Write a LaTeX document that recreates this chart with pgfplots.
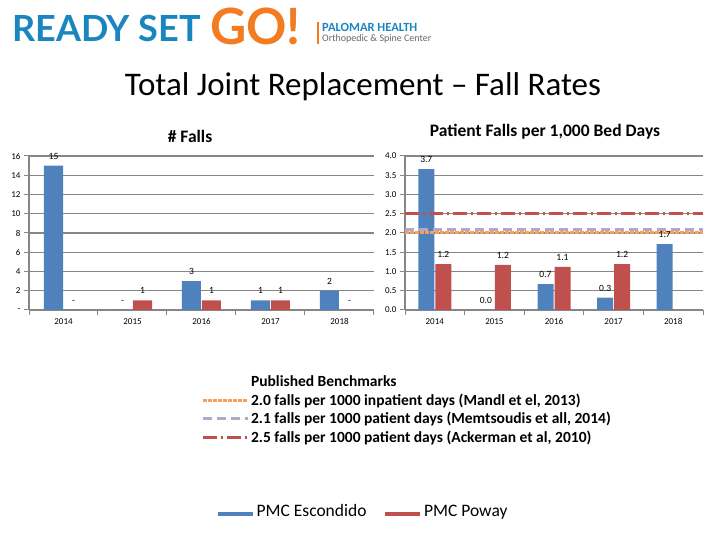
\documentclass[border=0pt]{standalone}
\usepackage{fontspec}
\setmainfont{Carlito}
\newfontfamily\logofont{Lato}
\usepackage{pgfplots}
\pgfplotsset{compat=1.18}
\definecolor{escblue}{RGB}{79,129,189}
\definecolor{powred}{RGB}{192,80,77}
\definecolor{gridgray}{RGB}{134,134,134}
\definecolor{bmorange}{RGB}{247,160,90}
\definecolor{bmlav}{RGB}{178,168,204}
\definecolor{bmred}{RGB}{192,80,77}
\definecolor{logoblue}{RGB}{26,134,192}
\definecolor{logoorange}{RGB}{244,124,32}
\pgfplotsset{
  chartstyle/.style={
    scale only axis, clip=false,
    xmin=0, xmax=5, ymin=0,
    axis x line*=bottom, axis y line*=left,
    axis line style={-, gridgray, line width=1.3pt},
    ymajorgrids, grid style={gridgray, line width=1.3pt},
    xtick={0.5,1.5,2.5,3.5,4.5}, xticklabels={2014,2015,2016,2017,2018},
    minor xtick={0,1,2,3,4,5},
    major x tick style={draw=none},
    tick align=outside, major tick length=5pt, minor tick length=5pt,
    tick style={gridgray, line width=1pt},
    ticklabel style={font=\fontsize{9}{10}\selectfont},
  },
  lbl/.style={point meta=explicit symbolic, nodes near coords,
    every node near coord/.append style={font=\fontsize{9.5}{10}\selectfont, text=black, yshift=3pt, xshift=#1}},
}
\begin{document}
\begin{tikzpicture}
% logo
\node[anchor=base west, inner sep=0, text=logoblue, font=\logofont\bfseries\fontsize{36}{40}\selectfont] at (12pt,498pt) {READY SET};
\node[anchor=base west, inner sep=0, text=logoorange, font=\logofont\bfseries\fontsize{50}{54}\selectfont] at (210pt,495pt) {GO!};
\draw[logoorange, line width=1.2pt] (318pt,496pt) -- (318pt,518pt);
\node[anchor=base west, inner sep=0, text=logoblue, font=\bfseries\fontsize{12.5}{14}\selectfont] at (322pt,508pt) {PALOMAR HEALTH};
\node[anchor=base west, inner sep=0, text=black!60, font=\fontsize{10}{11}\selectfont] at (322pt,498pt) {Orthopedic \& Spine Center};
% titles
\node[anchor=base, inner sep=0, font=\fontsize{33}{38}\selectfont] at (363pt,444pt) {Total Joint Replacement – Fall Rates};
\node[anchor=base, inner sep=0, font=\bfseries\fontsize{17.5}{20}\selectfont] at (190pt,397pt) {\# Falls};
\node[anchor=base, inner sep=0, font=\bfseries\fontsize{17.5}{20}\selectfont] at (545pt,403pt) {Patient Falls per 1,000 Bed Days};

% left chart
\begin{axis}[chartstyle,
  at={(29pt,230pt)}, anchor=south west, width=345pt, height=154pt,
  ymax=16, ytick={0,2,...,16}, yticklabels={-,2,4,6,8,10,12,14,16},
  legend columns=2,
  legend style={at={(0.533,-1.325)}, anchor=west, draw=none, fill=none,
    font=\fontsize{17.5}{20}\selectfont,
    nodes={text height=0.75em, text depth=0.25em},
    /tikz/every even column/.append style={column sep=15pt}},
  legend image code/.code={\draw[#1, line width=3.5pt] (0pt,0pt) -- (35pt,0pt);},
]
\addplot[ybar, bar width=19pt, bar shift=-10pt, fill=escblue, draw=none, forget plot, lbl=-10pt]
  coordinates {(0.5,15) [15] (1.5,0) [-] (2.5,3) [3] (3.5,1) [1] (4.5,2) [2]};
\addplot[ybar, bar width=19pt, bar shift=10pt, fill=powred, draw=none, forget plot, lbl=10pt]
  coordinates {(0.5,0) [-] (1.5,1) [1] (2.5,1) [1] (3.5,1) [1] (4.5,0) [-]};
\addlegendimage{escblue}
\addlegendentry{PMC Escondido}
\addlegendimage{powred}
\addlegendentry{PMC Poway}
\end{axis}

% right chart
\begin{axis}[chartstyle,
  at={(405pt,230pt)}, anchor=south west, width=298pt, height=154pt,
  ymax=4, ytick={0,0.5,...,4},
  yticklabel style={/pgf/number format/.cd, fixed, fixed zerofill, precision=1, assume math mode=true},
  legend style={at={(-0.695,-0.40)}, anchor=north west, draw=none, fill=none,
    font=\bfseries\fontsize{15.5}{18}\selectfont, row sep=1.5pt,
    cells={anchor=west}},
  legend image code/.code={\draw[#1] (0pt,0pt) -- (45pt,0pt);},
]
\addplot[ybar, bar width=16pt, bar shift=-8.5pt, fill=escblue, draw=none, forget plot, lbl=-8.5pt]
  coordinates {(0.5,3.66) [3.7] (1.5,0) [0.0] (2.5,0.67) [0.7] (3.5,0.32) [0.3] (4.5,1.71) [1.7]};
\addplot[ybar, bar width=16pt, bar shift=8.5pt, fill=powred, draw=none, forget plot, lbl=8.5pt]
  coordinates {(0.5,1.19) [1.2] (1.5,1.17) [1.2] (2.5,1.12) [1.1] (3.5,1.19) [1.2]};
\addlegendimage{empty legend}
\addlegendentry{Published Benchmarks}
\addplot[mark=none, bmorange, line width=3pt, dash pattern=on 4pt off 1pt]
  coordinates {(0,2.0) (5,2.0)};
\addlegendentry{2.0 falls per 1000 inpatient days (Mandl et el, 2013)}
\addplot[mark=none, bmlav, line width=3pt, dash pattern=on 9pt off 5pt]
  coordinates {(0,2.1) (5,2.1)};
\addlegendentry{2.1 falls per 1000 patient days (Memtsoudis  et all, 2014)}
\addplot[mark=none, bmred, line width=3pt, dash pattern=on 14pt off 4pt on 2pt off 4pt]
  coordinates {(0,2.5) (5,2.5)};
\addlegendentry{2.5 falls per 1000 patient days (Ackerman et al, 2010)}
\end{axis}
\pgfresetboundingbox
\path[use as bounding box] (0pt,0pt) rectangle (720pt,540pt);
\end{tikzpicture}
\end{document}
